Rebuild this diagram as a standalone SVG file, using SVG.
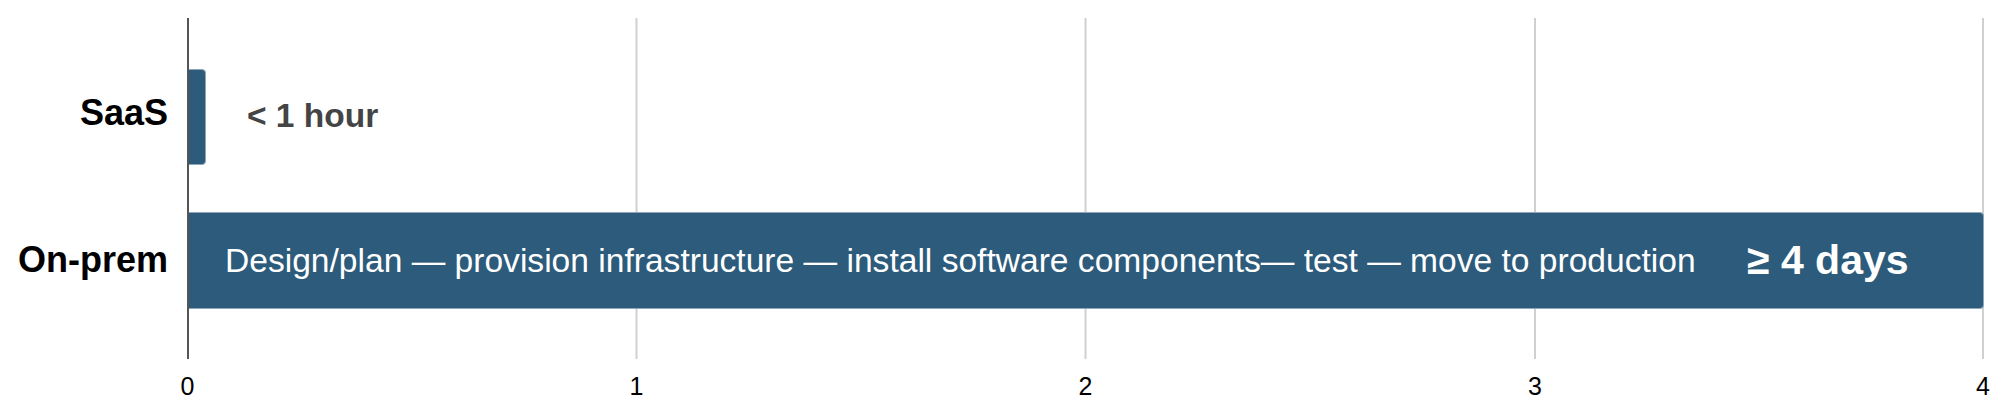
<svg xmlns="http://www.w3.org/2000/svg" width="1999" height="419" viewBox="0 0 1999 419">
  <style>
    .grid { stroke: #d0d0d0; stroke-width: 2; }
    .axis { stroke: #555555; stroke-width: 2; }
    .bar { fill: #2c5b7b; stroke: #8ea6b8; stroke-width: 1; }
    .cat { font-family: "Liberation Sans", Arial, Helvetica, sans-serif; font-weight: bold; font-size: 36px; fill: #000000; text-anchor: end; }
    .tick { font-family: "Liberation Sans", Arial, Helvetica, sans-serif; font-size: 25px; fill: #000000; text-anchor: middle; }
    .inbar { font-family: "Liberation Sans", Arial, Helvetica, sans-serif; font-size: 33.6px; fill: #ffffff; }
    .big { font-family: "Liberation Sans", Arial, Helvetica, sans-serif; font-weight: bold; font-size: 41px; fill: #ffffff; }
    .val { font-family: "Liberation Sans", Arial, Helvetica, sans-serif; font-weight: bold; font-size: 33.5px; fill: #444444; }
  </style>
  <rect width="1999" height="419" fill="#ffffff"/>
  <g id="gridlines">
    <line class="grid" x1="636.5" y1="18" x2="636.5" y2="359"/>
    <line class="grid" x1="1085.5" y1="18" x2="1085.5" y2="359"/>
    <line class="grid" x1="1535" y1="18" x2="1535" y2="359"/>
    <line class="grid" x1="1983" y1="18" x2="1983" y2="359"/>
  </g>
  <g id="tick-labels">
    <text class="tick" x="187.5" y="395">0</text>
    <text class="tick" x="636.5" y="395">1</text>
    <text class="tick" x="1085.5" y="395">2</text>
    <text class="tick" x="1535" y="395">3</text>
    <text class="tick" x="1983" y="395">4</text>
  </g>
  <g id="saas">
    <path class="bar" d="M188.5,69.5 H202 Q205.5,69.5 205.5,73 V161 Q205.5,164.5 202,164.5 H188.5 Z"/>
    <text class="cat" x="168" y="125">SaaS</text>
    <text class="val" x="247" y="126.5">&lt; 1 hour</text>
  </g>
  <g id="onprem">
    <path class="bar" d="M188.5,212.5 H1980 Q1983.5,212.5 1983.5,216 V305 Q1983.5,308.5 1980,308.5 H188.5 Z"/>
    <text class="cat" x="168" y="271.5">On-prem</text>
    <text class="inbar" x="225" y="271.5">Design/plan — provision infrastructure — install software components— test — move to production</text>
    <text class="big" x="1747" y="273.5">≥ 4 days</text>
  </g>
  <g id="axis">
    <line class="axis" x1="188" y1="18" x2="188" y2="359"/>
  </g>
</svg>
